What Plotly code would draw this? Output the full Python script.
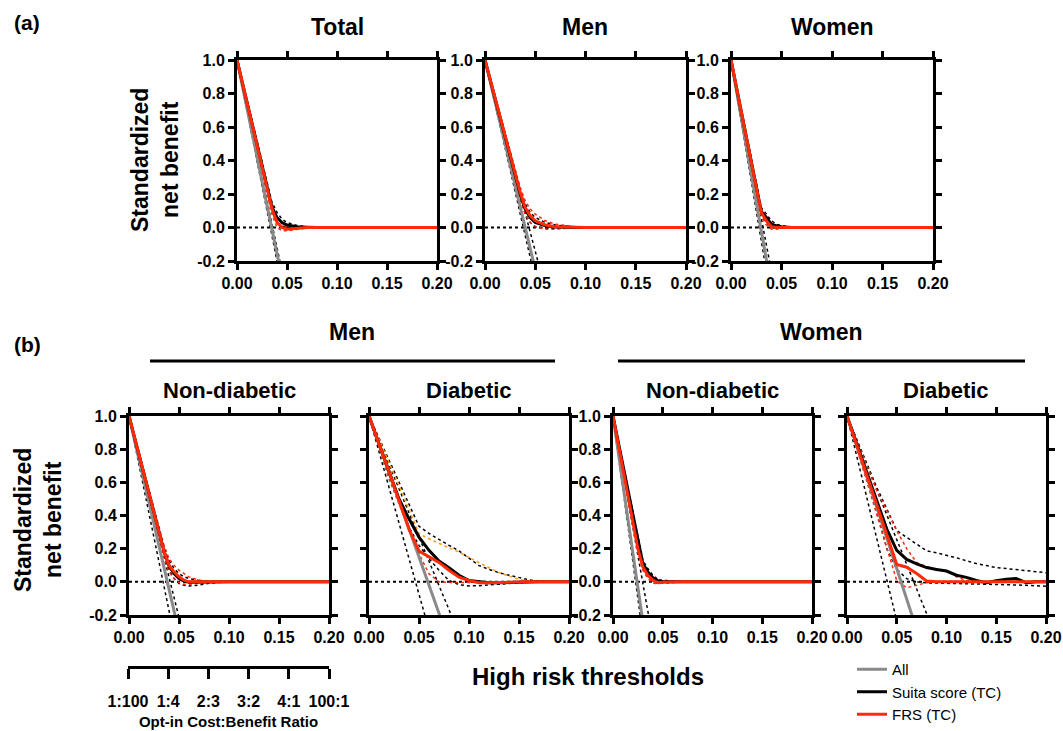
import plotly.graph_objects as go

# ---------------- data ----------------
NONE_X = [0, 0.20]
NONE_Y = [0, 0]

# (a) Total
A_TOT_X = [0, 0.01, 0.02, 0.03, 0.035, 0.04, 0.045, 0.05, 0.06, 0.07, 0.08, 0.20]
A_TOT_ALL = [1, 0.71, 0.42, 0.13, -0.01, -0.16, -0.30, None, None, None, None, None]
A_TOT_ALL_LO = [1, 0.70, 0.40, 0.10, -0.05, -0.20, -0.35, None, None, None, None, None]
A_TOT_ALL_HI = [1, 0.72, 0.44, 0.16, 0.03, -0.12, -0.26, None, None, None, None, None]
A_TOT_SUITA = [1, 0.75, 0.50, 0.25, 0.12, 0.06, 0.03, 0.015, 0.005, 0.002, 0, 0]
A_TOT_SUITA_LO = [1, 0.74, 0.48, 0.22, 0.09, 0.03, 0.01, 0.0, -0.004, 0, 0, 0]
A_TOT_SUITA_HI = [1, 0.76, 0.52, 0.27, 0.15, 0.09, 0.05, 0.03, 0.012, 0.005, 0.002, 0]
A_TOT_FRS = [1, 0.75, 0.50, 0.24, 0.11, 0.03, 0.0, -0.01, -0.005, 0, 0, 0]
A_TOT_FRS_LO = [1, 0.74, 0.48, 0.21, 0.08, 0.0, -0.02, -0.02, -0.01, -0.003, 0, 0]
A_TOT_FRS_HI = [1, 0.76, 0.52, 0.26, 0.14, 0.06, 0.02, 0.005, 0, 0, 0, 0]

# (a) Men
A_MEN_X = [0, 0.01, 0.02, 0.03, 0.035, 0.04, 0.045, 0.05, 0.06, 0.07, 0.08, 0.09, 0.10, 0.20]
A_MEN_ALL = [1, 0.75, 0.50, 0.25, 0.125, 0, -0.125, -0.25, None, None, None, None, None, None]
A_MEN_ALL_LO = [1, 0.74, 0.48, 0.22, 0.09, -0.04, -0.18, -0.31, None, None, None, None, None, None]
A_MEN_ALL_HI = [1, 0.77, 0.54, 0.31, 0.20, 0.08, -0.03, -0.15, -0.37, None, None, None, None, None]
A_MEN_SUITA = [1, 0.77, 0.545, 0.32, 0.20, 0.11, 0.06, 0.03, 0.01, 0.003, 0, 0, 0, 0]
A_MEN_SUITA_LO = [1, 0.76, 0.53, 0.30, 0.17, 0.08, 0.03, 0.005, -0.005, -0.005, -0.002, 0, 0, 0]
A_MEN_SUITA_HI = [1, 0.78, 0.56, 0.34, 0.23, 0.14, 0.09, 0.06, 0.03, 0.015, 0.008, 0.003, 0, 0]
A_MEN_FRS = [1, 0.77, 0.545, 0.32, 0.21, 0.12, 0.07, 0.04, 0.015, 0.005, 0.002, 0, 0, 0]
A_MEN_FRS_LO = [1, 0.76, 0.53, 0.30, 0.18, 0.08, 0.03, 0.005, -0.01, -0.01, -0.005, 0, 0, 0]
A_MEN_FRS_HI = [1, 0.78, 0.56, 0.34, 0.24, 0.16, 0.11, 0.08, 0.04, 0.02, 0.01, 0.004, 0, 0]

# (a) Women
A_WOM_X = [0, 0.01, 0.02, 0.025, 0.03, 0.035, 0.04, 0.045, 0.05, 0.06, 0.07, 0.20]
A_WOM_ALL = [1, 0.66, 0.32, 0.15, -0.02, -0.19, -0.36, None, None, None, None, None]
A_WOM_ALL_LO = [1, 0.64, 0.28, 0.10, -0.08, -0.26, None, None, None, None, None, None]
A_WOM_ALL_HI = [1, 0.685, 0.37, 0.21, 0.055, -0.10, -0.26, None, None, None, None, None]
A_WOM_SUITA = [1, 0.70, 0.39, 0.24, 0.095, 0.06, 0.02, 0.01, 0.005, 0, 0, 0]
A_WOM_SUITA_LO = [1, 0.69, 0.37, 0.22, 0.07, 0.03, 0.0, -0.005, -0.003, 0, 0, 0]
A_WOM_SUITA_HI = [1, 0.71, 0.41, 0.26, 0.12, 0.08, 0.04, 0.02, 0.01, 0.003, 0, 0]
A_WOM_FRS = [1, 0.70, 0.39, 0.24, 0.09, 0.04, 0.005, 0, 0, 0, 0, 0]
A_WOM_FRS_LO = [1, 0.69, 0.37, 0.22, 0.065, 0.015, -0.01, -0.01, -0.005, 0, 0, 0]
A_WOM_FRS_HI = [1, 0.71, 0.41, 0.26, 0.115, 0.065, 0.03, 0.012, 0.005, 0, 0, 0]

# (b) Men, non-diabetic
B_MND_X = [0, 0.01, 0.02, 0.03, 0.035, 0.04, 0.045, 0.05, 0.055, 0.06, 0.07, 0.08, 0.09, 0.10, 0.20]
B_MND_ALL = [1, 0.74, 0.48, 0.22, 0.09, -0.04, -0.175, -0.305, None, None, None, None, None, None, None]
B_MND_ALL_LO = [1, 0.71, 0.41, 0.12, -0.03, -0.17, -0.32, None, None, None, None, None, None, None, None]
B_MND_ALL_HI = [1, 0.76, 0.51, 0.27, 0.15, 0.03, -0.09, -0.215, -0.34, None, None, None, None, None, None]
B_MND_SUITA = [1, 0.767, 0.534, 0.30, 0.185, 0.095, 0.05, 0.02, 0.005, -0.003, -0.002, 0, 0, 0, 0]
B_MND_SUITA_LO = [1, 0.76, 0.52, 0.28, 0.16, 0.07, 0.02, -0.01, -0.02, -0.025, -0.02, -0.008, -0.002, 0, 0]
B_MND_SUITA_HI = [1, 0.775, 0.55, 0.32, 0.21, 0.13, 0.08, 0.05, 0.03, 0.02, 0.008, 0.002, 0, 0, 0]
B_MND_FRS = [1, 0.767, 0.534, 0.30, 0.185, 0.10, 0.06, 0.03, 0.01, 0.0, -0.002, 0, 0, 0, 0]
B_MND_FRS_LO = [1, 0.755, 0.51, 0.27, 0.15, 0.06, 0.02, -0.005, -0.015, -0.015, -0.008, -0.002, 0, 0, 0]
B_MND_FRS_HI = [1, 0.78, 0.56, 0.33, 0.22, 0.14, 0.10, 0.07, 0.05, 0.03, 0.01, 0.003, 0, 0, 0]

# (b) Men, diabetic
B_MD_X = [0, 0.01, 0.02, 0.03, 0.04, 0.05, 0.06, 0.07, 0.08, 0.09, 0.10,
          0.11, 0.12, 0.13, 0.14, 0.15, 0.16, 0.17, 0.18, 0.20]
B_MD_ALL = [1, 0.83, 0.66, 0.49, 0.32, 0.15, -0.02, -0.19, -0.36,
            None, None, None, None, None, None, None, None, None, None, None]
B_MD_ALL_LO = [1, 0.785, 0.57, 0.355, 0.14, -0.075, -0.29,
               None, None, None, None, None, None, None, None, None, None, None, None, None]
B_MD_ALL_HI = [1, 0.854, 0.708, 0.562, 0.416, 0.27, 0.124, -0.022, -0.168, -0.314,
               None, None, None, None, None, None, None, None, None, None]
B_MD_SUITA = [1, 0.83, 0.67, 0.50, 0.38, 0.27, 0.19, 0.125, 0.085, 0.04, 0.008,
              0.0, -0.005, -0.005, -0.003, 0, 0, 0, 0, 0]
B_MD_SUITA_LO = [1, 0.82, 0.64, 0.48, 0.33, 0.22, 0.14, 0.07, 0.008, -0.017, -0.025,
                 -0.023, -0.02, -0.015, -0.01, -0.006, -0.002, 0, 0, 0]
B_MD_SUITA_HI = [1, 0.867, 0.734, 0.60, 0.467, 0.335, 0.292, 0.255, 0.22, 0.187, 0.14,
                 0.098, 0.075, 0.055, 0.04, 0.025, 0.012, 0.004, 0, 0]
B_MD_FRS = [1, 0.835, 0.665, 0.49, 0.318, 0.185, 0.152, 0.117, 0.07, 0.028, 0.008,
            -0.006, -0.005, -0.003, 0, 0, 0, 0, 0, 0]
B_MD_FRS_LO = [1, 0.81, 0.62, 0.47, 0.32, 0.17, 0.048, 0.0, -0.004, -0.006, -0.004,
               -0.002, 0, 0, 0, 0, 0, 0, 0, 0]
B_MD_FRS_HI = [1, 0.862, 0.724, 0.58, 0.436, 0.29, 0.26, 0.23, 0.205, 0.18, 0.145,
               0.115, 0.085, 0.056, 0.035, 0.015, 0.003, 0, 0, 0]

# (b) Women, non-diabetic
B_WND_X = [0, 0.01, 0.02, 0.025, 0.03, 0.035, 0.04, 0.045, 0.05, 0.06, 0.07, 0.20]
B_WND_ALL = [1, 0.586, 0.172, -0.035, -0.24, None, None, None, None, None, None, None]
B_WND_ALL_LO = [1, 0.56, 0.12, -0.10, -0.32, None, None, None, None, None, None, None]
B_WND_ALL_HI = [1, 0.664, 0.328, 0.16, -0.008, -0.176, -0.344, None, None, None, None, None]
B_WND_SUITA = [1, 0.70, 0.40, 0.245, 0.11, 0.06, 0.025, 0.006, 0.002, 0, 0, 0]
B_WND_SUITA_LO = [1, 0.69, 0.38, 0.22, 0.08, 0.03, 0.0, -0.01, -0.008, -0.002, 0, 0]
B_WND_SUITA_HI = [1, 0.71, 0.42, 0.27, 0.13, 0.08, 0.04, 0.015, 0.005, 0, 0, 0]
B_WND_FRS = [1, 0.68, 0.36, 0.20, 0.09, 0.04, 0.01, -0.005, -0.003, 0, 0, 0]
B_WND_FRS_LO = [1, 0.67, 0.34, 0.18, 0.07, 0.02, -0.008, -0.012, -0.006, 0, 0, 0]
B_WND_FRS_HI = [1, 0.69, 0.38, 0.22, 0.11, 0.06, 0.03, 0.015, 0.01, 0.004, 0, 0]

# (b) Women, diabetic
B_WD_X = [0, 0.01, 0.02, 0.03, 0.04, 0.05, 0.06, 0.07, 0.08, 0.09, 0.10,
          0.11, 0.12, 0.13, 0.14, 0.15, 0.16, 0.17, 0.18, 0.19, 0.20]
B_WD_ALL = [1, 0.816, 0.632, 0.448, 0.264, 0.08, -0.104, -0.288,
            None, None, None, None, None, None, None, None, None, None, None, None, None]
B_WD_ALL_LO = [1, 0.753, 0.506, 0.259, 0.012, -0.235,
               None, None, None, None, None, None, None, None, None, None, None, None, None, None, None]
B_WD_ALL_HI = [1, 0.851, 0.702, 0.553, 0.404, 0.255, 0.106, -0.043, -0.192, -0.341,
               None, None, None, None, None, None, None, None, None, None, None]
B_WD_SUITA = [1, 0.83, 0.66, 0.49, 0.318, 0.19, 0.135, 0.108, 0.086, 0.075, 0.065,
              0.04, 0.027, 0.008, -0.006, 0.007, 0.016, 0.02, -0.005, 0, 0]
B_WD_SUITA_LO = [1, 0.81, 0.62, 0.42, 0.20, 0.076, 0.019, 0.0, -0.006, -0.007, -0.008,
                 -0.009, -0.01, -0.011, -0.013, -0.015, -0.017, -0.019, -0.021, -0.024, -0.026]
B_WD_SUITA_HI = [1, 0.855, 0.71, 0.568, 0.44, 0.31, 0.268, 0.228, 0.187, 0.175, 0.161,
                 0.145, 0.127, 0.11, 0.098, 0.086, 0.08, 0.073, 0.067, 0.061, 0.055]
B_WD_FRS = [1, 0.82, 0.64, 0.46, 0.28, 0.105, 0.088, 0.05, 0.005, 0, 0,
            0, 0, 0, 0, 0, 0, 0, 0, 0, 0]
B_WD_FRS_LO = [1, 0.80, 0.61, 0.41, 0.20, 0.007, -0.036, -0.02, -0.005, -0.001, 0,
               0, 0, 0, 0, 0, 0, 0, 0, 0, 0]
B_WD_FRS_HI = [1, 0.847, 0.694, 0.55, 0.43, 0.308, 0.20, 0.117, 0.092, 0.073, 0.067,
               0.03, 0.008, 0, 0, 0, 0, 0, 0, 0, 0]

X_TICKS = [0, 0.05, 0.10, 0.15, 0.20]
X_TICKTEXT = ["0.00", "0.05", "0.10", "0.15", "0.20"]
Y_TICKS = [-0.2, 0, 0.2, 0.4, 0.6, 0.8, 1.0]
Y_TICKTEXT = ["-0.2", "0.0", "0.2", "0.4", "0.6", "0.8", "1.0"]
CB_TICKS = [0, 0.04, 0.08, 0.12, 0.16, 0.20]
CB_TICKTEXT = ["1:100", "1:4", "2:3", "3:2", "4:1", "100:1"]

# ---------------- styling ----------------
W, H = 1063, 731
FONT = "Liberation Sans, Arial, Helvetica, sans-serif"
GRAY = "#8a8a8a"
BLACK = "#000000"
RED = "#ff2a0a"
ORANGE = "#ff9a1a"


def px(x):
    return x / W


def py(y):
    return 1 - y / H


# subplot pixel boxes: (x0, x1, ytop, ybottom, show y tick labels)
BOXES = [
    (237, 437, 60, 261, True),
    (485, 686, 60, 261, True),
    (731, 933, 60, 261, True),
    (129, 329, 416, 615, True),
    (369, 569, 416, 615, False),
    (613, 812, 416, 615, True),
    (847, 1046, 416, 615, False),
]

PANELS = [
    (A_TOT_X, A_TOT_ALL, A_TOT_ALL_LO, A_TOT_ALL_HI, A_TOT_SUITA, A_TOT_SUITA_LO, A_TOT_SUITA_HI, A_TOT_FRS, A_TOT_FRS_LO, A_TOT_FRS_HI),
    (A_MEN_X, A_MEN_ALL, A_MEN_ALL_LO, A_MEN_ALL_HI, A_MEN_SUITA, A_MEN_SUITA_LO, A_MEN_SUITA_HI, A_MEN_FRS, A_MEN_FRS_LO, A_MEN_FRS_HI),
    (A_WOM_X, A_WOM_ALL, A_WOM_ALL_LO, A_WOM_ALL_HI, A_WOM_SUITA, A_WOM_SUITA_LO, A_WOM_SUITA_HI, A_WOM_FRS, A_WOM_FRS_LO, A_WOM_FRS_HI),
    (B_MND_X, B_MND_ALL, B_MND_ALL_LO, B_MND_ALL_HI, B_MND_SUITA, B_MND_SUITA_LO, B_MND_SUITA_HI, B_MND_FRS, B_MND_FRS_LO, B_MND_FRS_HI),
    (B_MD_X, B_MD_ALL, B_MD_ALL_LO, B_MD_ALL_HI, B_MD_SUITA, B_MD_SUITA_LO, B_MD_SUITA_HI, B_MD_FRS, B_MD_FRS_LO, B_MD_FRS_HI),
    (B_WND_X, B_WND_ALL, B_WND_ALL_LO, B_WND_ALL_HI, B_WND_SUITA, B_WND_SUITA_LO, B_WND_SUITA_HI, B_WND_FRS, B_WND_FRS_LO, B_WND_FRS_HI),
    (B_WD_X, B_WD_ALL, B_WD_ALL_LO, B_WD_ALL_HI, B_WD_SUITA, B_WD_SUITA_LO, B_WD_SUITA_HI, B_WD_FRS, B_WD_FRS_LO, B_WD_FRS_HI),
]

fig = go.Figure()

for i, (X, ALL, ALL_LO, ALL_HI, SU, SU_LO, SU_HI, FR, FR_LO, FR_HI) in enumerate(PANELS):
    n = i + 1
    xa = "x" if n == 1 else f"x{n}"
    ya = "y" if n == 1 else f"y{n}"
    first = (n == 1)
    common = dict(xaxis=xa, yaxis=ya, mode="lines", hoverinfo="skip")
    # treat-none reference
    fig.add_trace(go.Scatter(x=NONE_X, y=NONE_Y, line=dict(color=BLACK, width=2, dash="dot"),
                             showlegend=False, **common))
    # confidence bands (dotted)
    for yy in (ALL_LO, ALL_HI, SU_LO, SU_HI):
        fig.add_trace(go.Scatter(x=X, y=yy, line=dict(color=BLACK, width=1.5, dash="dot"),
                                 showlegend=False, **common))
    fig.add_trace(go.Scatter(x=X, y=FR_LO, line=dict(color=RED, width=1.5, dash="dot"),
                             showlegend=False, **common))
    hi_col = ORANGE if n == 5 else RED
    fig.add_trace(go.Scatter(x=X, y=FR_HI, line=dict(color=hi_col, width=1.5, dash="dot"),
                             showlegend=False, **common))
    # main curves
    fig.add_trace(go.Scatter(x=X, y=ALL, name="All", line=dict(color=GRAY, width=3),
                             showlegend=first, **common))
    fig.add_trace(go.Scatter(x=X, y=SU, name="Suita score (TC)", line=dict(color=BLACK, width=3),
                             showlegend=first, **common))
    fig.add_trace(go.Scatter(x=X, y=FR, name="FRS (TC)", line=dict(color=RED, width=3),
                             showlegend=first, **common))

axis_common = dict(showline=True, linewidth=3, linecolor="black", mirror="ticks",
                   ticks="outside", ticklen=6, tickwidth=2.5, tickcolor="black",
                   showgrid=False, zeroline=False, fixedrange=True, automargin=False,
                   tickfont=dict(family=FONT, size=16, color="black", weight="bold"))

layout_axes = {}
for i, (x0, x1, yt, yb, show_y) in enumerate(BOXES):
    n = i + 1
    xk = "xaxis" if n == 1 else f"xaxis{n}"
    yk = "yaxis" if n == 1 else f"yaxis{n}"
    xa = "x" if n == 1 else f"x{n}"
    ya = "y" if n == 1 else f"y{n}"
    layout_axes[xk] = dict(axis_common, domain=[px(x0), px(x1)], range=[0, 0.20],
                           tickvals=X_TICKS, ticktext=X_TICKTEXT, anchor=ya)
    layout_axes[yk] = dict(axis_common, domain=[py(yb), py(yt)], range=[-0.2, 1.0],
                           tickvals=Y_TICKS, ticktext=Y_TICKTEXT, anchor=xa,
                           showticklabels=show_y)

# Cost:benefit ratio axis (extra axis with an invisible trace)
fig.add_trace(go.Scatter(x=[CB_TICKS[0], CB_TICKS[-1]], y=[0, 0], xaxis="x8", yaxis="y8",
                         mode="markers", marker=dict(opacity=0), showlegend=False, hoverinfo="skip"))
layout_axes["xaxis8"] = dict(domain=[px(128), px(329)], range=[0, 0.20], anchor="free",
                             position=py(667), side="bottom", showline=True, linewidth=3,
                             linecolor="black", ticks="outside", ticklen=10, tickwidth=3,
                             tickcolor="black", showgrid=False, zeroline=False, automargin=False,
                             tickvals=CB_TICKS, ticktext=CB_TICKTEXT, ticklabelstandoff=9,
                             tickfont=dict(family=FONT, size=16, color="black", weight="bold"),
                             title=dict(text="Opt-in Cost:Benefit Ratio", standoff=7,
                                        font=dict(family=FONT, size=15, color="black", weight="bold")))
layout_axes["yaxis8"] = dict(domain=[0, 0.02], anchor="x8", visible=False, range=[-1, 1],
                             automargin=False)

annotations = []


def txt(text, x, y, size, xanchor="center", angle=0, weight="bold"):
    annotations.append(dict(text=text, x=px(x), y=py(y), xref="paper", yref="paper",
                            xanchor=xanchor, yanchor="middle", showarrow=False, textangle=angle,
                            font=dict(family=FONT, size=size, color="black", weight=weight)))


txt("(a)", 12, 23, 21, xanchor="left")
txt("(b)", 12, 345, 21, xanchor="left")
txt("Total", 337, 27, 23)
txt("Men", 585, 27, 23)
txt("Women", 832, 27, 23)
txt("Men", 352, 332, 23)
txt("Women", 821, 332, 23)
txt("Non-diabetic", 229, 390, 22)
txt("Diabetic", 469, 390, 22)
txt("Non-diabetic", 712, 390, 22)
txt("Diabetic", 946, 390, 22)
txt("Standardized<br>net benefit", 155, 160, 23, angle=-90)
txt("Standardized<br>net benefit", 38, 520, 23, angle=-90)
txt("High risk thresholds", 588, 676, 24)

shapes = [
    dict(type="line", xref="paper", yref="paper", x0=px(150), x1=px(555), y0=py(361), y1=py(361),
         line=dict(color="black", width=3)),
    dict(type="line", xref="paper", yref="paper", x0=px(618), x1=px(1025), y0=py(361), y1=py(361),
         line=dict(color="black", width=3)),
]

fig.update_layout(
    template="none",
    width=W, height=H, autosize=False,
    margin=dict(l=0, r=0, t=0, b=0, pad=0),
    paper_bgcolor="white", plot_bgcolor="white",
    font=dict(family=FONT, color="black"),
    annotations=annotations, shapes=shapes,
    legend=dict(x=px(852), y=0, xanchor="left", yanchor="bottom",
                bgcolor="rgba(0,0,0,0)", borderwidth=0,
                font=dict(family=FONT, size=15, color="black"),
                tracegroupgap=0, itemwidth=30),
    **layout_axes,
)

fig.write_html("out.html", config={"displayModeBar": False},
               post_script="document.body.style.margin='0px';document.body.style.overflow='hidden';")
